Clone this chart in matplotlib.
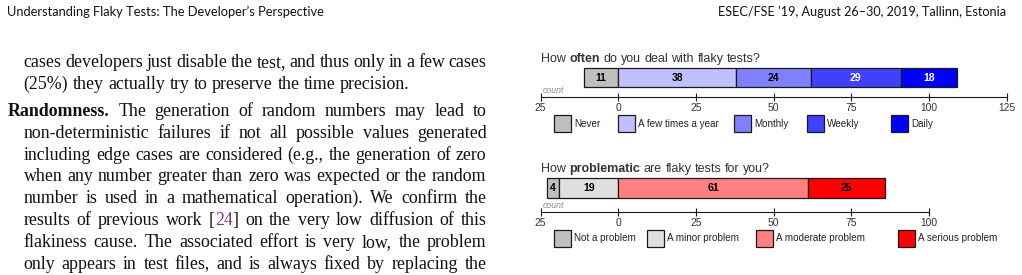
import matplotlib.pyplot as plt
from matplotlib.patches import Rectangle
from matplotlib.ticker import FuncFormatter

W, H = 1022, 275

# survey data
often_labels = ["Never", "A few times a year", "Monthly", "Weekly", "Daily"]
often_counts = [11, 38, 24, 29, 18]
often_colors = ["#bfbfbf", "#c0c0ff", "#8080ff", "#4040ff", "#0000ff"]
often_text = ["black", "black", "black", "white", "white"]
often_neg = 1  # categories stacked left of zero

problem_labels = ["Not a problem", "A minor problem", "A moderate problem", "A serious problem"]
problem_counts = [4, 19, 61, 25]
problem_colors = ["#bfbfbf", "#e0e0e0", "#ff8080", "#ff0000"]
problem_text = ["black", "black", "black", "black"]
problem_neg = 2

often_ticks = [-25, 0, 25, 50, 75, 100, 125]
problem_ticks = [-25, 0, 25, 50, 75, 100]

# page text around the figure
header_left = "Understanding Flaky Tests: The Developer\u2019s Perspective"
header_right = "ESEC/FSE \u201919, August 26\u201330, 2019, Tallinn, Estonia"
body_lines = [
    "cases developers just disable the test, and thus only in a few cases",
    "(25%) they actually try to preserve the time precision.",
    "Randomness.  The generation of random numbers may lead to",
    "non-deterministic failures if not all possible values generated",
    "including edge cases are considered (e.g., the generation of zero",
    "when any number greater than zero was expected or the random",
    "number is used in a mathematical operation). We confirm the",
    "results of previous work [24] on the very low diffusion of this",
    "flakiness cause. The associated effort is very low, the problem",
    "only appears in test files, and is always fixed by replacing the",
]

fig = plt.figure(figsize=(W / 100, H / 100), dpi=100)
renderer = fig.canvas.get_renderer()


def fx(p):
    return p / W


def fy(p):
    return 1 - p / H


def text_width(s, **kw):
    t = fig.text(0, 0, s, **kw)
    w = t.get_window_extent(renderer).width
    t.remove()
    return w


def draw_words(x0, base, words, width=None, space=None, **kw):
    # words: list of lists of (text, extra props); drawn left to right
    widths = []
    for segs in words:
        widths.append(sum(text_width(s, **{**kw, **p}) for s, p in segs))
    if space is None:
        space = text_width("a a", **kw) - text_width("aa", **kw)
    if width is not None and len(words) > 1:
        space = (width - sum(widths)) / (len(words) - 1)
    x = x0
    for segs, w in zip(words, widths):
        for s, p in segs:
            props = {**kw, **p}
            fig.text(fx(x), fy(base), s, va="baseline", ha="left", **props)
            x += text_width(s, **props)
        x += space


def fit_size(s, target, **kw):
    return 10 * target / text_width(s, fontsize=10, **kw)


# headers
hfont = dict(family="Lato", color="#111111")
fig.text(fx(7), fy(16), header_left, va="baseline",
         fontsize=fit_size(header_left, 320, **hfont), **hfont)
fig.text(fx(1006), fy(16), header_right, va="baseline", ha="right",
         fontsize=fit_size(header_right, 287, **hfont), **hfont)

# body paragraph
bfont = dict(family="Liberation Serif", fontsize=12.9, color="#111111")
baselines = [67, 89, 116, 138, 159.5, 181, 203, 225, 247, 269]
for i, (line, base) in enumerate(zip(body_lines, baselines)):
    words = []
    for w in line.split():
        if w == "Randomness.":
            words.append([(w, dict(weight="bold"))])
        elif w == "[24]":
            words.append([("[", {}), ("24", dict(color="#8a2f8f")), ("]", {})])
        else:
            words.append([(w, {})])
    x0 = 7.5 if i == 2 else 23.5
    last = i == 1
    if i == 2:
        # bold run-in head with wider gap after it
        draw_words(x0, base, words[:1], **bfont)
        w0 = text_width("Randomness.", weight="bold", **bfont) + 9
        draw_words(x0 + w0, base, words[1:], width=486.5 - x0 - w0, **bfont)
    else:
        draw_words(x0, base, words, width=None if last else 486.5 - x0, **bfont)

# charts
cfont = "Liberation Sans"


def draw_chart(top, bottom, bar_frac, counts, colors, tcolors, neg, ticks,
               title, bold, title_base, labels, leg_x, leg_top):
    ax = fig.add_axes([fx(540.7), fy(bottom), (1006.5 - 540.7) / W, (bottom - top) / H])
    ax.set_xlim(-25, 125)
    ax.set_ylim(0, 1)
    ax.patch.set_visible(False)
    for s in ["left", "right", "top"]:
        ax.spines[s].set_visible(False)
    ax.spines["bottom"].set_bounds(ticks[0], ticks[-1])
    ax.spines["bottom"].set_color("#1a1a1a")
    ax.spines["bottom"].set_linewidth(0.8)
    ax.set_yticks([])
    ax.set_xticks(ticks)
    ax.xaxis.set_major_formatter(FuncFormatter(lambda v, p: f"{abs(v):g}"))
    ax.tick_params(axis="x", direction="inout", length=6.3, width=0.8,
                   pad=1.5, labelsize=7.4, labelcolor="#333333", color="#1a1a1a")
    for lab in ax.get_xticklabels():
        lab.set_family(cfont)

    lefts = []
    for i in range(len(counts)):
        if i < neg:
            lefts.append(-sum(counts[i:neg]))
        else:
            lefts.append(sum(counts[neg:i]))
    y = bar_frac + (1 - bar_frac) / 2
    h = 1 - bar_frac
    ax.barh(y, counts, left=lefts, height=h, color=colors,
            edgecolor="#1a1a1a", linewidth=0.9, clip_on=False)
    for c, l, tc in zip(counts, lefts, tcolors):
        ax.text(l + c / 2, y, str(c), ha="center", va="center", fontsize=7.6,
                weight="bold", color=tc, family=cfont)
    ax.annotate("count", xy=(-25, 0), xycoords=("data", "axes fraction"),
                xytext=(1.2, 4.8), textcoords="offset points", ha="left",
                va="center", fontsize=6.3, style="italic", color="#8c8c8c",
                family=cfont)

    # title with one bold word
    pre, post = title.split(bold)
    tk = dict(family=cfont, fontsize=9, color="#333333")
    words = [[(w, {})] for w in pre.split()] + [[(bold, dict(weight="bold"))]] + \
        [[(w, {})] for w in post.split()]
    draw_words(541, title_base, words, **tk)

    # legend
    for lab, col, x in zip(labels, colors, leg_x):
        fig.add_artist(Rectangle((fx(x), fy(leg_top + 17)), 17 / W, 17 / H,
                                 transform=fig.transFigure, facecolor=col,
                                 edgecolor="#1a1a1a", linewidth=0.9))
        fig.text(fx(x + 20), fy(leg_top + 8.7), lab, va="center", ha="left",
                 fontsize=7.1, color="#222222", family=cfont)


draw_chart(67.7, 96.7, 0.324, often_counts, often_colors, often_text, often_neg,
           often_ticks, "How often do you deal with flaky tests?", "often", 61.7,
           often_labels, [554, 618, 734, 807, 891], 115)
draw_chart(178, 211.7, 0.415, problem_counts, problem_colors, problem_text, problem_neg,
           problem_ticks, "How problematic are flaky tests for you?", "problematic", 171.7,
           problem_labels, [554, 647, 756, 898], 229.5)

fig.savefig("out.png", dpi=100)
